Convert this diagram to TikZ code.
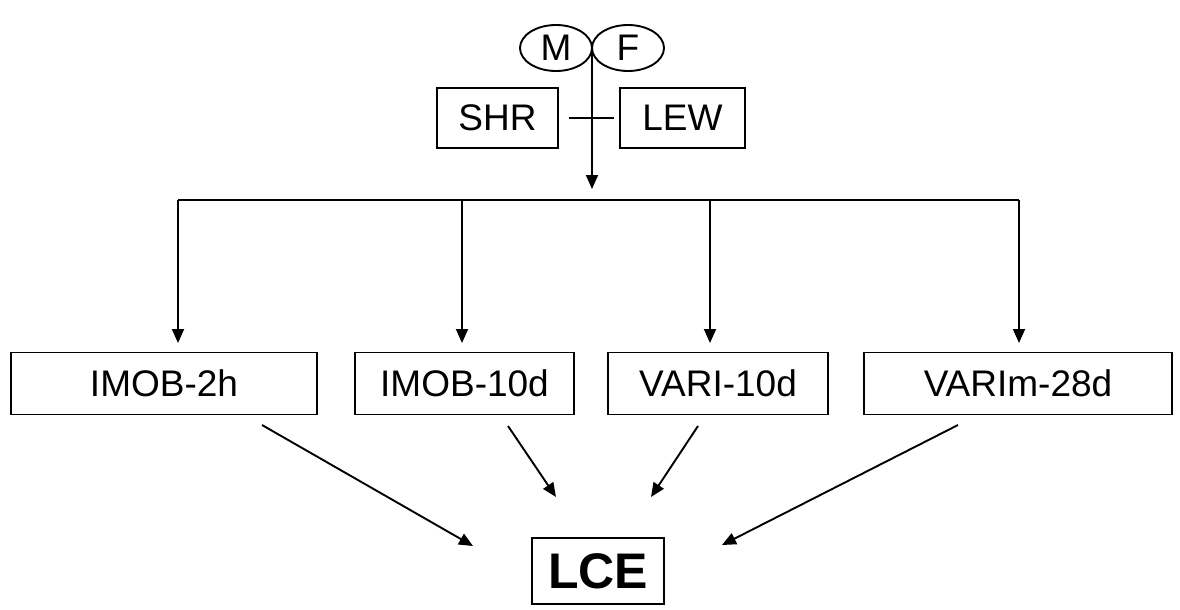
\documentclass[tikz,border=0pt]{standalone}
\usepackage{fontspec}
\setmainfont{Liberation Sans}
\usetikzlibrary{arrows.meta,shapes.geometric}
\begin{document}
\begin{tikzpicture}[x=1pt,y=-1pt,
  line width=1.9pt,
  lbl/.style={font=\fontsize{37}{40}\selectfont},
  boxnode/.style={draw,lbl,inner sep=0pt,minimum height=62pt},
  ovl/.style={draw,ellipse,lbl,inner sep=0pt,minimum width=72pt,minimum height=46pt},
  arr/.style={-{Triangle[length=14pt,width=12pt]}}
]
\useasboundingbox (0,0) rectangle (1180,610);
\node[ovl] (m) at (556,48) {M};
\node[ovl] (f) at (628,48) {F};
\node[boxnode,minimum width=121pt,minimum height=60pt] (shr) at (497.5,118) {SHR};
\node[boxnode,minimum width=125pt,minimum height=60pt] (lew) at (682.5,118) {LEW};
\node[boxnode,minimum width=306pt] (b1) at (164,383.5) {IMOB-2h};
\node[boxnode,minimum width=219pt] (b2) at (464.5,383.5) {IMOB-10d};
\node[boxnode,minimum width=220pt] (b3) at (718,383.5) {VARI-10d};
\node[boxnode,minimum width=308pt] (b4) at (1018,383.5) {VARIm-28d};
\node[draw,inner sep=0pt,minimum width=132pt,minimum height=66pt,font=\fontsize{50}{54}\selectfont\bfseries] (lce) at (598,571) {LCE};
% main stem
\coordinate (top) at (592,48);
\coordinate (stemend) at (592,189);
\draw[arr] (top) -- (stemend);
\draw ([xshift=10pt]shr.east) -- ([xshift=-5pt]lew.west);
% bus
\coordinate (busL) at (178,200);
\coordinate (busR) at (1019,200);
\draw (busL) -- (busR);
\foreach \x/\n in {178/b1,462/b2,710/b3,1019/b4}{
  \draw[arr] (\x,200) -- (\x,343);
}
% arrows to LCE
\coordinate (s1) at (262,425);
\coordinate (e1) at (473,546);
\coordinate (s2) at (508,426);
\coordinate (e2) at (556,497);
\coordinate (s3) at (698,426);
\coordinate (e3) at (651,497);
\coordinate (s4) at (958,425);
\coordinate (e4) at (722,545);
\draw[arr] (s1) -- (e1);
\draw[arr] (s2) -- (e2);
\draw[arr] (s3) -- (e3);
\draw[arr] (s4) -- (e4);
\end{tikzpicture}
\end{document}
